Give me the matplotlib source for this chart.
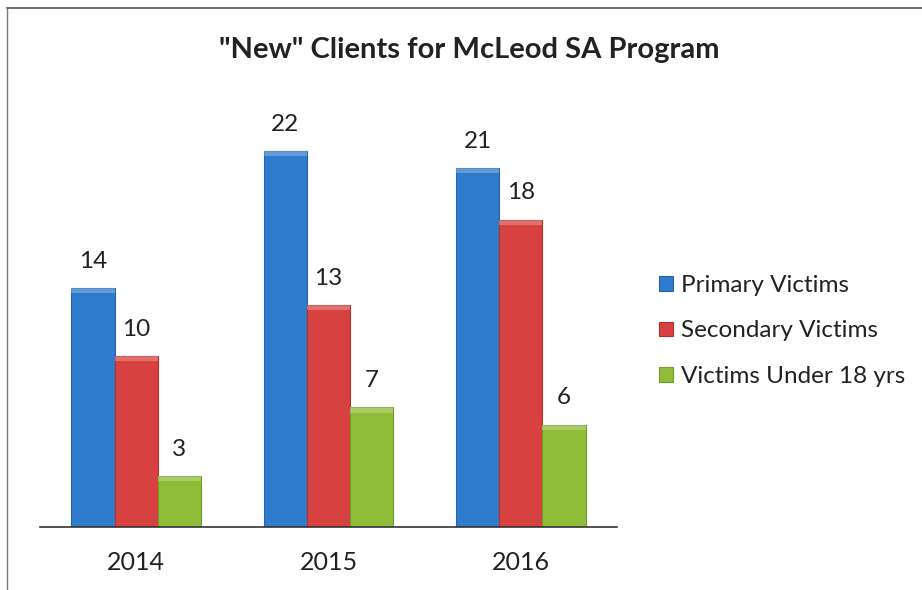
import matplotlib.pyplot as plt
import numpy as np

years = ['2014', '2015', '2016']
series = ['Primary Victims', 'Secondary Victims', 'Victims Under 18 yrs']
primary = [14, 22, 21]
secondary = [10, 13, 18]
under18 = [3, 7, 6]

colors = ['#2f7bcd', '#d7413f', '#8fbd38']
edges = ['#2565ad', '#b33230', '#729a2a']

plt.rcParams['font.family'] = ['Lato', 'DejaVu Sans']

fig = plt.figure(figsize=(9.22, 5.9), dpi=100)
ax = fig.add_axes([0.0434, 0.1068, 0.6258, 0.7237])

x = np.arange(len(years))
w = 0.225
for i, (vals, name) in enumerate(zip([primary, secondary, under18], series)):
    bars = ax.bar(x + (i - 1) * w, vals, w, color=colors[i], edgecolor=edges[i],
                  linewidth=0.8, label=name, zorder=2)
    for b in bars:
        # light bevel strip on top of each bar
        ax.add_patch(plt.Rectangle((b.get_x(), b.get_height() - 0.3), b.get_width(), 0.3,
                                   color='white', alpha=0.25, lw=0, zorder=3))
    for b, v in zip(bars, vals):
        ax.text(b.get_x() + b.get_width() / 2, v + 0.95, str(v), ha='center', va='bottom',
                fontsize=17.5, color='#222222')

ax.set_xlim(-0.5, 2.5)
ax.set_ylim(0, 25)
ax.set_xticks(x)
ax.set_xticklabels(years, fontsize=18, color='#222222')
ax.tick_params(axis='x', length=0, pad=17)
ax.set_yticks([])
for s in ['top', 'right', 'left']:
    ax.spines[s].set_visible(False)
ax.spines['bottom'].set_color('#333333')
ax.spines['bottom'].set_linewidth(1.2)

fig.text(0.509, 0.915, '"New" Clients for McLeod SA Program', ha='center', va='center',
         fontsize=21, fontweight='bold', color='#222222')

leg = fig.legend(loc='center left', bbox_to_anchor=(0.715, 0.439), frameon=False,
                 fontsize=17.5, handlelength=0.55, handleheight=0.55, handletextpad=0.35,
                 labelspacing=1.0, labelcolor='#222222', borderpad=0, borderaxespad=0)

# outer chart border (scanned frame)
fig.add_artist(plt.Line2D([0.0076, 1.0], [0.986, 0.986], color='#555555', lw=1.2))
fig.add_artist(plt.Line2D([0.0076, 0.0076], [0.0, 0.986], color='#777777', lw=1.0))

fig.savefig('out.png', dpi=100, facecolor='white')
